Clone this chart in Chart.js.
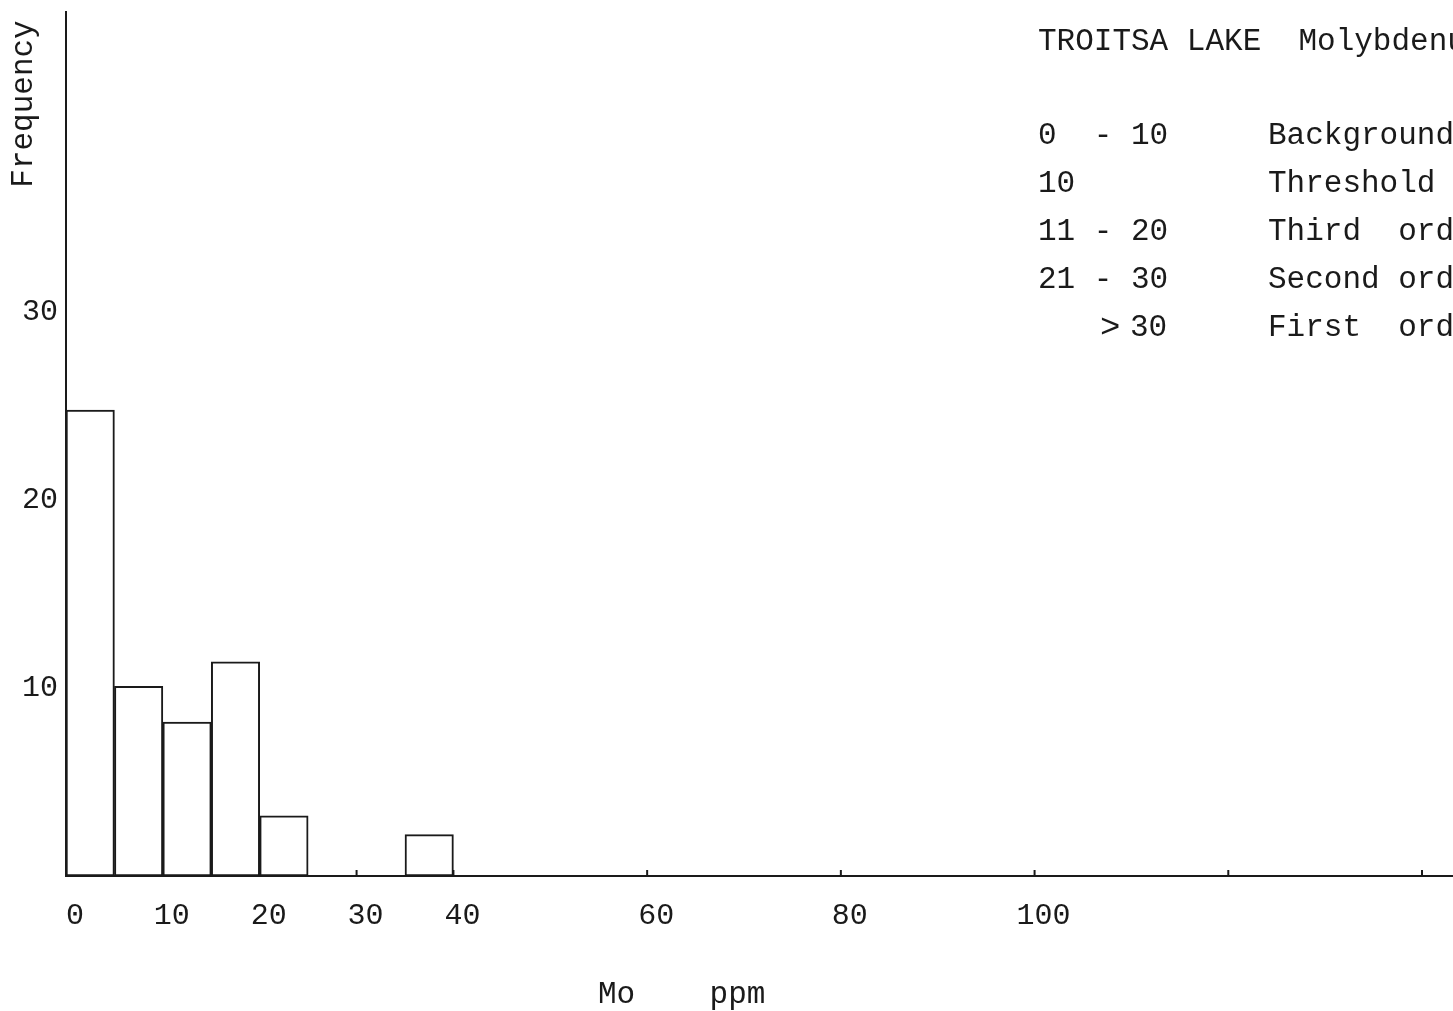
<!DOCTYPE html>
<html>
<head>
<meta charset="utf-8">
<script src="https://cdn.jsdelivr.net/npm/chart.js@4.4.1/dist/chart.umd.min.js"></script>
<style>
  html, body { margin: 0; padding: 0; background: #ffffff; }
  #wrap { width: 1453px; height: 1011px; position: relative; }
</style>
</head>
<body>
<div id="wrap"><canvas id="c" width="1453" height="1011"></canvas></div>
<script>
// ---- Data ----
const binStarts   = [0, 5, 10, 15, 20, 35];
const binEnds     = [5, 10, 15, 20, 25, 40];
const frequencies = [24.8, 10.1, 8.2, 11.4, 3.2, 2.2];

const xTickValues = [0, 10, 20, 30, 40, 60, 80, 100, 120, 140];
const xTickLabels = ['0', '10', '20', '30', '40', '60', '80', '100', '', ''];
const yTickValues = [10, 20, 30];

const titleText   = 'TROITSA LAKE  Molybdenum';
const legendRanges = ['0  - 10', '10', '11 - 20', '21 - 30', '>30'];
const legendLabels = ['Background', 'Threshold', 'Third  order', 'Second order', 'First  order'];
const yTitle = 'Frequency';
const xTitle = 'Mo    ppm';

const MONO = '"Liberation Mono", "Courier New", "DejaVu Sans Mono", monospace';
const INK = '#1a1a1a';

const barData = binStarts.map((s, i) => ({ x: (s + binEnds[i]) / 2, y: frequencies[i] }));

const textPlugin = {
  id: 'texts',
  afterDraw(chart) {
    const ctx = chart.ctx;
    const xs = chart.scales.x;
    ctx.save();
    // small upward tick marks on x axis
    ctx.strokeStyle = INK;
    ctx.lineWidth = 2;
    xTickValues.forEach(v => {
      if (v === 0) return;
      const px = xs.getPixelForValue(v);
      ctx.beginPath();
      ctx.moveTo(px, chart.chartArea.bottom);
      ctx.lineTo(px, chart.chartArea.bottom - 6);
      ctx.stroke();
    });

    ctx.fillStyle = INK;
    ctx.font = '31px ' + MONO;
    ctx.textBaseline = 'middle';
    ctx.textAlign = 'left';
    ctx.fillText(titleText, 1038, 42);
    const rowsY = [136, 184, 232, 280, 328];
    legendRanges.forEach((t, i) => {
      if (t.startsWith('>')) {
        ctx.save();
        ctx.font = '34px ' + MONO;
        ctx.fillText('>', 1100, rowsY[i]);
        ctx.restore();
        ctx.fillText(t.slice(1), 1130, rowsY[i]);
      } else {
        ctx.fillText(t, 1038, rowsY[i]);
      }
      ctx.fillText(legendLabels[i], 1268, rowsY[i]);
    });

    // axis titles
    ctx.fillText(xTitle, 598, 995);
    ctx.save();
    ctx.translate(24, 104);
    ctx.rotate(-Math.PI / 2);
    ctx.textAlign = 'center';
    ctx.fillText(yTitle, 0, 0);
    ctx.restore();
    ctx.restore();
  }
};

new Chart(document.getElementById('c'), {
  type: 'bar',
  data: {
    datasets: [{
      data: barData,
      backgroundColor: '#ffffff',
      borderColor: INK,
      borderWidth: 2,
      borderSkipped: false,
      barPercentage: 1.0,
      categoryPercentage: 1.0
    }]
  },
  options: {
    responsive: false,
    animation: false,
    layout: { padding: { top: 12, right: 0, left: 0, bottom: 0 } },
    plugins: { legend: { display: false }, tooltip: { enabled: false }, title: { display: false } },
    scales: {
      x: {
        type: 'linear',
        offset: false,
        min: 0,
        max: 143.2,
        grid: { display: false, drawTicks: false },
        border: { display: true, color: INK, width: 2 },
        afterBuildTicks(scale) { scale.ticks = xTickValues.map(v => ({ value: v })); },
        afterFit(scale) { scale.height = 135; },
        ticks: {
          autoSkip: false,
          maxRotation: 0,
          padding: 22,
          labelOffset: 9,
          color: INK,
          font: { family: MONO, size: 30 },
          callback(value) {
            const i = xTickValues.indexOf(value);
            return i >= 0 ? xTickLabels[i] : '';
          }
        }
      },
      y: {
        type: 'linear',
        min: 0,
        max: 46,
        grid: { display: false, drawTicks: false },
        border: { display: true, color: INK, width: 2 },
        afterBuildTicks(scale) { scale.ticks = yTickValues.map(v => ({ value: v })); },
        afterFit(scale) { scale.width = 66; scale.paddingTop = 0; scale.paddingBottom = 0; },
        ticks: {
          autoSkip: false,
          padding: 8,
          color: INK,
          font: { family: MONO, size: 30 }
        }
      }
    }
  },
  plugins: [textPlugin]
});
</script>
</body>
</html>
